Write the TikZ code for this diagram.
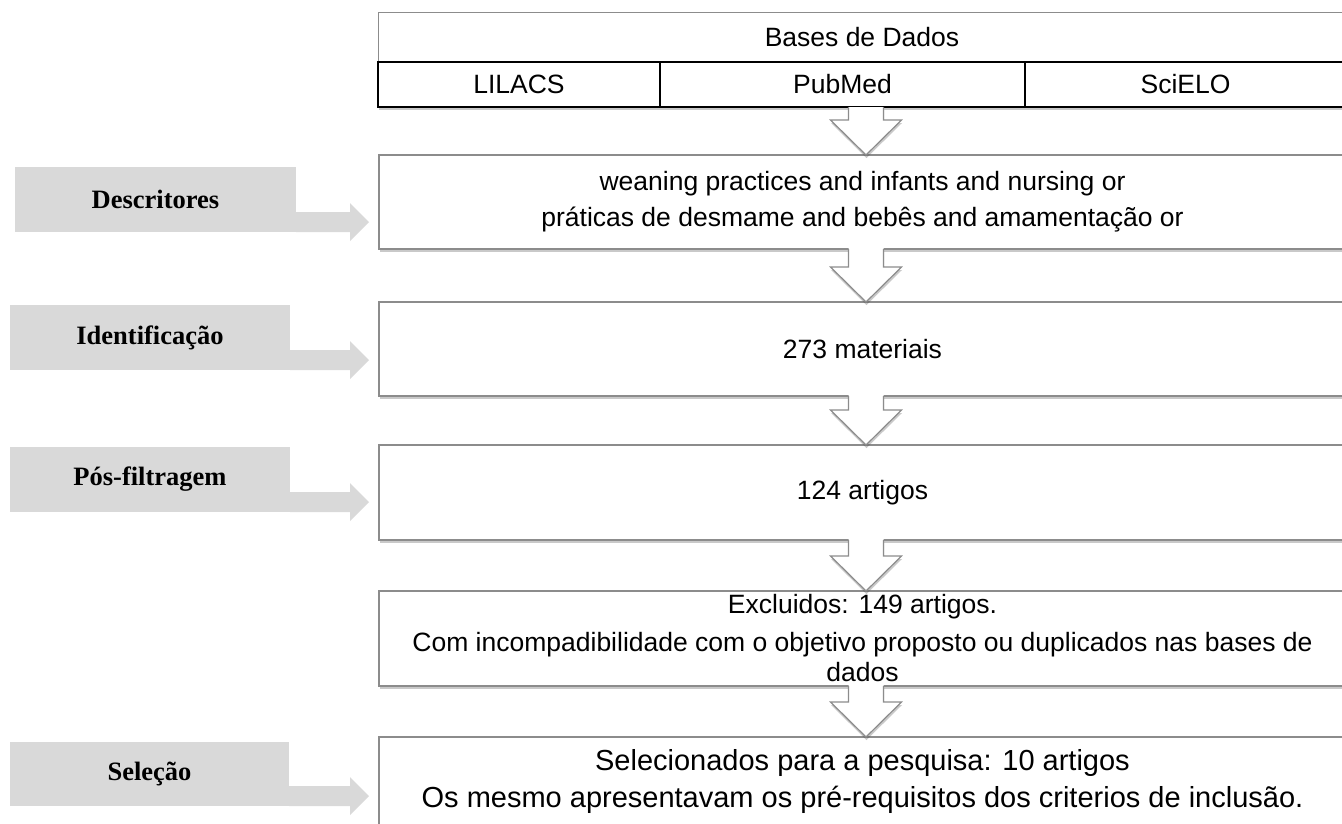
\documentclass[tikz,border=0pt]{standalone}
\usepackage{fontspec}
\setmainfont{Liberation Serif}
\setsansfont{Liberation Sans}
\usetikzlibrary{calc,positioning,shadows}
\definecolor{labelgray}{RGB}{217,217,217}
\definecolor{framegray}{RGB}{140,140,140}

\begin{document}
\begin{tikzpicture}[x=1pt, y=-1pt,
  every node/.style={inner sep=0pt, outer sep=0pt},
  boxfont/.style={font=\sffamily\fontsize{26.5}{30}\selectfont},
  boxshadow/.style={drop shadow={shadow xshift=0.5pt, shadow yshift=-3pt, opacity=0.3, fill=black!70}},
  cell/.style={boxfont, draw=black, line width=1.3pt, fill=white, anchor=north west, minimum height=45},
  flowbox/.style={boxfont, draw=framegray, line width=1.2pt, fill=white, anchor=north west,
                  minimum width=967, minimum height=94, align=center, boxshadow},
  tagbox/.style={font=\rmfamily\bfseries\fontsize{26.5}{30}\selectfont, fill=labelgray,
                 anchor=north west, minimum height=65},
  downarrow/.style={draw=framegray, line width=1.2pt, line join=miter}
]
\useasboundingbox (0,0) rectangle (1342,823);
\coordinate (axis) at (866,0);
\coordinate (headx) at (350,0);

% tabela das bases
\node[cell, draw=framegray, line width=1pt, minimum width=968, minimum height=50] (bases) at (378,12) {Bases de Dados};
\node[cell, boxshadow, minimum width=282] (lilacs) at (378,62) {LILACS};
\node[cell, boxshadow, minimum width=365] (pubmed) at (lilacs.north east) {PubMed};
\node[cell, boxshadow, minimum width=321] (scielo) at (pubmed.north east) {SciELO};

% caixas do fluxo
\node[flowbox] (termos) at (379,155) {weaning practices and infants and nursing or\\[6pt]
  práticas de desmame and bebês and amamentação or};
\node[flowbox] (materiais) at (379,302) {273 materiais};
\node[flowbox, minimum height=95] (artigos) at (379,445) {124 artigos};
\node[flowbox, minimum height=95] (excluidos) at (379,591) {Excluidos: 149 artigos.\\[8pt]
  Com incompadibilidade com o objetivo proposto ou duplicados nas bases de\\ dados};
\node[flowbox, minimum height=88, font=\sffamily\fontsize{29}{33}\selectfont] (selecionados) at (379,737)
  {Selecionados para a pesquisa: 10 artigos\\[4pt]
  Os mesmo apresentavam os pré-requisitos dos criterios de inclusão.};

% etapas
\node[tagbox, minimum width=281] (descritores) at (15,167) {Descritores};
\node[tagbox, minimum width=280] (identificacao) at (10,305) {Identificação};
\node[tagbox, minimum width=280] (posfiltragem) at (10,447) {Pós-filtragem};
\node[tagbox, minimum width=279, minimum height=64] (selecao) at (10,742) {Seleção};

\foreach \t in {descritores, identificacao, posfiltragem, selecao}
  \fill[labelgray] (\t.south east) -- (\t.south east -| headx) -- ++(0,9) -- ++(19,-19)
    -- ++(-19,-19) -- ++(0,9) -- ($(\t.south east)+(0,-20)$) -- cycle;

% setas para baixo
\foreach \a/\b/\c in {pubmed/termos/0, termos/materiais/-1.5, materiais/artigos/-1.5,
                      artigos/excluidos/-1.5, excluidos/selecionados/-1.5}{
  \coordinate (top) at (\a.south -| axis);
  \coordinate (tip) at (\b.north -| axis);
  \fill[white, boxshadow] ($(top)+(-17.5,\c)$) -- ($(tip)+(-17.5,-35)$) -- ($(tip)+(-35.5,-35)$)
    -- (tip) -- ($(tip)+(35.5,-35)$) -- ($(tip)+(17.5,-35)$) -- ($(top)+(17.5,\c)$) -- cycle;
  \draw[downarrow] (top) ++(-17.5,0) -- ($(tip)+(-17.5,-35)$) -- ($(tip)+(-35.5,-35)$)
    -- (tip) -- ($(tip)+(35.5,-35)$) -- ($(tip)+(17.5,-35)$) -- ($(top)+(17.5,0)$);
}
\end{tikzpicture}
\end{document}
